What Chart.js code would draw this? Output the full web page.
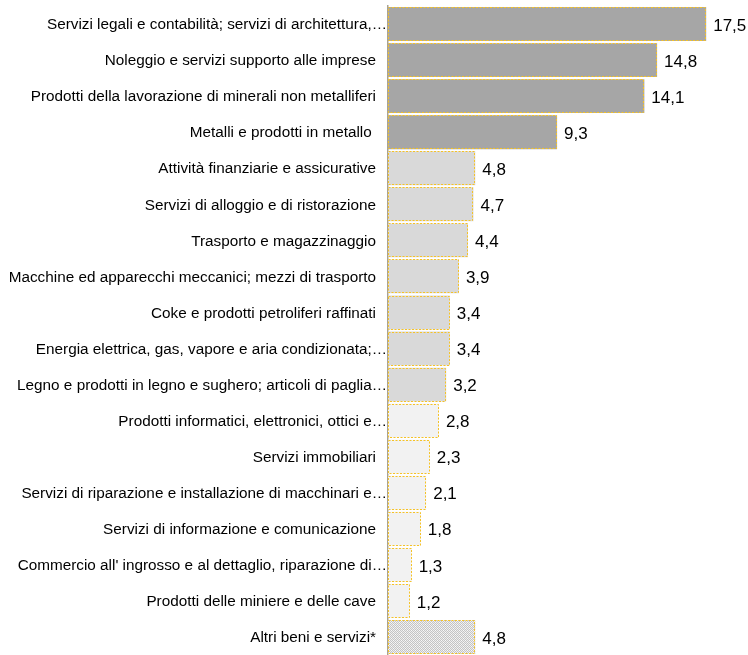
<!DOCTYPE html>
<html><head><meta charset="utf-8">
<script src="https://cdn.jsdelivr.net/npm/chart.js@4"></script>
<style>html,body{margin:0;padding:0;background:#fff;}#wrap{width:748px;height:655px;}</style>
</head><body><div id="wrap"><canvas id="c" width="748" height="655"></canvas></div>
<script>
const categories = [
 "Servizi legali e contabilità; servizi di architettura,…",
 "Noleggio e servizi supporto alle imprese",
 "Prodotti della lavorazione di minerali non metalliferi",
 "Metalli e prodotti in metallo ",
 "Attività finanziarie e assicurative",
 "Servizi di alloggio e di ristorazione",
 "Trasporto e magazzinaggio",
 "Macchine ed apparecchi meccanici; mezzi di trasporto",
 "Coke e prodotti petroliferi raffinati",
 "Energia elettrica, gas, vapore e aria condizionata;…",
 "Legno e prodotti in legno e sughero; articoli di paglia…",
 "Prodotti informatici, elettronici, ottici e…",
 "Servizi immobiliari",
 "Servizi di riparazione e installazione di macchinari e…",
 "Servizi di informazione e comunicazione",
 "Commercio all' ingrosso e al dettaglio, riparazione di…",
 "Prodotti delle miniere e delle cave",
 "Altri beni e servizi*"
];
const values = [17.5,14.8,14.1,9.3,4.8,4.7,4.4,3.9,3.4,3.4,3.2,2.8,2.3,2.1,1.8,1.3,1.2,4.8];
const groups = [0,0,0,0,1,1,1,1,1,1,1,2,2,2,2,2,2,3];

function makePattern(){
  const p=document.createElement('canvas');p.width=4;p.height=4;
  const g=p.getContext('2d');
  g.fillStyle='#eeeeee';g.fillRect(0,0,4,4);
  g.fillStyle='#c4c4c4';
  g.fillRect(0,0,1,1);g.fillRect(2,0,1,1);g.fillRect(1,1,1,1);g.fillRect(3,1,1,1);
  g.fillRect(0,2,1,1);g.fillRect(2,2,1,1);g.fillRect(1,3,1,1);g.fillRect(3,3,1,1);
  g.fillStyle='#fafafa';g.fillRect(1,0,1,1);g.fillRect(3,2,1,1);
  return g.createPattern(p,'repeat');
}
const ctx0=document.getElementById('c').getContext('2d');
const pat=makePattern();
const fills=['#a6a6a6','#d9d9d9','#f2f2f2',pat];
const bg=groups.map(g=>fills[g]);

const borderPlugin={id:'dashBorder',afterDatasetsDraw(chart){
  const c=chart.ctx;const meta=chart.getDatasetMeta(0);
  c.save();c.strokeStyle='#f5c227';c.lineWidth=1;c.setLineDash([2,1.5]);
  meta.data.forEach(el=>{
    const p=el.getProps(['x','y','base','height'],true);
    const l=Math.min(p.base,p.x),r=Math.max(p.base,p.x);
    const t=p.y-p.height/2;
    c.strokeRect(Math.round(l)+0.5,Math.round(t)+0.5,Math.round(r-l)-1,Math.round(p.height)-1);
  });
  c.restore();
}};
const labelPlugin={id:'vals',afterDatasetsDraw(chart){
  const c=chart.ctx;const meta=chart.getDatasetMeta(0);
  c.save();c.fillStyle='#000';c.font='17px "Liberation Sans", Arial, sans-serif';
  c.textAlign='left';c.textBaseline='middle';
  meta.data.forEach((el,i)=>{
    c.fillText(values[i].toFixed(1).replace('.',','),el.x+7,el.y+2);
  });
  c.restore();
}};
// full (non-truncated) category labels sit a little further from the axis
const tickShift={id:'tickShift',beforeDraw(chart){
  const s=chart.scales.y;
  const items=s.getLabelItems(chart.chartArea);
  items.forEach((it,i)=>{
    if(it._shifted) return;
    const lab=categories[i]||'';
    if(!lab.endsWith('…')) it.options.translation[0]-=11;
    it._shifted=true;
  });
}};

new Chart(ctx0,{type:'bar',
 data:{labels:categories,datasets:[{data:values,backgroundColor:bg,borderWidth:0,categoryPercentage:1,barPercentage:0.94}]},
 options:{indexAxis:'y',responsive:false,animation:false,
  layout:{padding:{top:6,bottom:-2,left:0,right:0}},
  plugins:{legend:{display:false},tooltip:{enabled:false}},
  scales:{
   x:{display:false,min:0,max:19.8},
   y:{grid:{display:false,drawTicks:false,tickLength:0},border:{display:true,color:'#a8a294',width:1.5},
      ticks:{color:'#000',font:{family:'"Liberation Sans", Arial, sans-serif',size:15.3},padding:1,autoSkip:false,labelOffset:1},
      afterFit(s){s.width=388;s.paddingTop=0;s.paddingBottom=0;}}
  }},
 plugins:[borderPlugin,labelPlugin,tickShift]});
</script></body></html>
